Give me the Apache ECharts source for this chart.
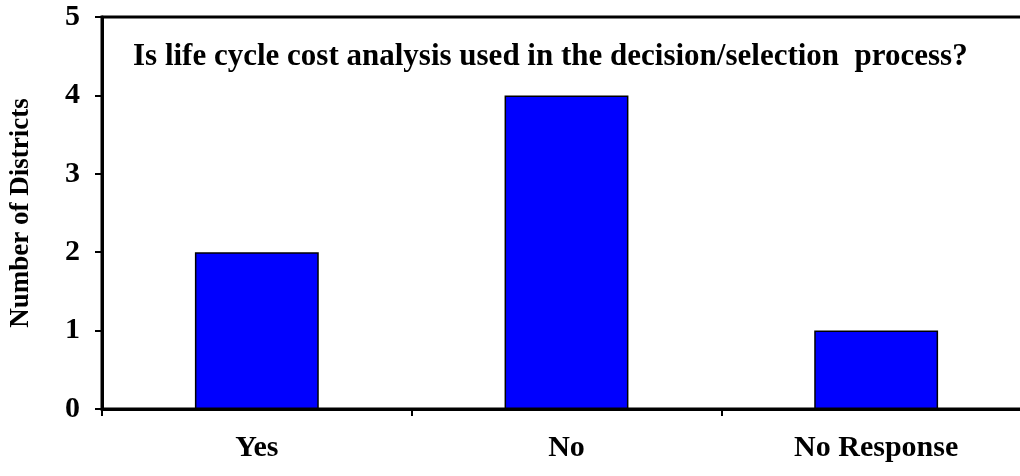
<!DOCTYPE html>
<html>
<head>
<meta charset="utf-8">
<script src="https://cdn.jsdelivr.net/npm/echarts@6/dist/echarts.min.js"></script>
<style>
  html, body { margin: 0; padding: 0; background: #fff; }
  #chart { width: 1020px; height: 476px; }
</style>
</head>
<body>
<div id="chart"></div>
<script>
// Survey responses: use of life cycle cost analysis
const categories = ['Yes', 'No', 'No Response'];
const districtCounts = [2, 4, 1];
const yTicks = [0, 1, 2, 3, 4, 5];

const FONT = 'Liberation Serif, Times New Roman, serif';
const SIZE = 30;

const chart = echarts.init(document.getElementById('chart'));
chart.setOption({
  animation: false,
  backgroundColor: '#ffffff',
  title: {
    text: 'Is life cycle cost analysis used in the decision/selection  process?',
    left: 128,
    top: 36,
    textStyle: { fontFamily: FONT, fontWeight: 'bold', fontSize: 31, color: '#000' }
  },
  // the plot frame runs past the right edge of the page
  grid: {
    left: 102, top: 17, width: 929, bottom: 67,
    outerBoundsMode: 'none',
    show: true, borderColor: '#000', borderWidth: 3, backgroundColor: 'transparent'
  },
  xAxis: {
    type: 'category',
    data: categories,
    axisLine: { lineStyle: { color: '#000', width: 3 } },
    axisTick: { show: true, length: 7, lineStyle: { color: '#000', width: 2 } },
    axisLabel: { fontFamily: FONT, fontWeight: 'bold', fontSize: SIZE, color: '#000', margin: 24 }
  },
  yAxis: {
    type: 'value',
    min: yTicks[0],
    max: yTicks[yTicks.length - 1],
    interval: 1,
    name: 'Number of Districts',
    nameLocation: 'middle',
    nameGap: 67,
    nameTextStyle: { fontFamily: FONT, fontWeight: 'bold', fontSize: 27, color: '#000' },
    axisLine: { show: true, lineStyle: { color: '#000', width: 3 } },
    axisTick: { show: true, length: 7, lineStyle: { color: '#000', width: 2 } },
    splitLine: { show: false },
    axisLabel: { fontFamily: FONT, fontWeight: 'bold', fontSize: SIZE, color: '#000', margin: 22 }
  },
  series: [{
    type: 'bar',
    data: districtCounts,
    barWidth: '40%',
    itemStyle: { color: '#0000ff', borderColor: '#000', borderWidth: 1.5 }
  }]
});
</script>
</body>
</html>
